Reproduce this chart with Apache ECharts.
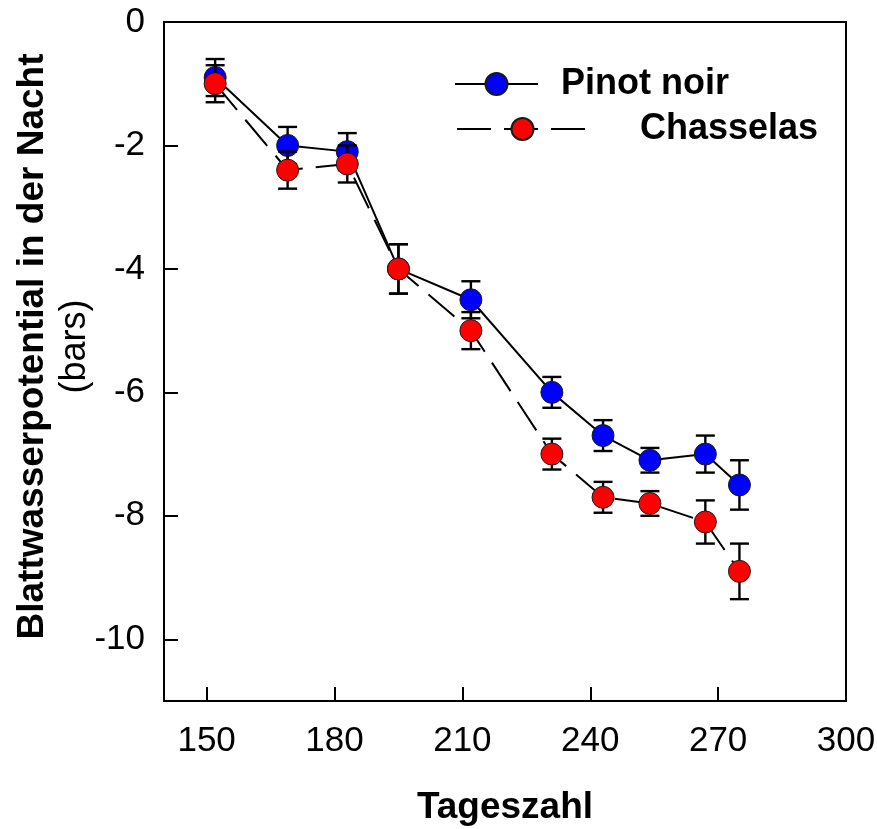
<!DOCTYPE html>
<html>
<head>
<meta charset="utf-8">
<script src="https://cdn.jsdelivr.net/npm/echarts@6/dist/echarts.min.js"></script>
<style>
html,body{margin:0;padding:0;background:#fff;}
#chart{width:877px;height:829px;}
</style>
</head>
<body>
<div id="chart"></div>
<script>
// ---- data ----
var days = [152, 169, 183, 195, 212, 231, 243, 254, 267, 275];
var pinotNoir = [-0.9, -2.0, -2.1, -4.0, -4.5, -6.0, -6.7, -7.1, -7.0, -7.5];
var pinotNoirErr = [0.3, 0.3, 0.3, 0.4, 0.3, 0.25, 0.25, 0.2, 0.3, 0.4];
var chasselas = [-1.0, -2.4, -2.3, -4.0, -5.0, -7.0, -7.7, -7.8, -8.1, -8.9];
var chasselasErr = [0.3, 0.3, 0.3, 0.4, 0.3, 0.25, 0.25, 0.2, 0.35, 0.45];
var xTicks = [150, 180, 210, 240, 270, 300];
var yTicks = [0, -2, -4, -6, -8, -10];
var seriesNames = ['Pinot noir', 'Chasselas'];
var xTitle = 'Tageszahl';
var yTitle1 = 'Blattwasserpotential in der Nacht';
var yTitle2 = '(bars)';

var FONT = 'Liberation Sans, Arial, Helvetica, sans-serif';

function pairs(xs, ys) { return xs.map(function (x, i) { return [x, ys[i]]; }); }
function errData(xs, ys, es) { return xs.map(function (x, i) { return [x, ys[i] - es[i], ys[i] + es[i]]; }); }

function errRender(params, api) {
  var x = api.value(0);
  var lo = api.coord([x, api.value(1)]);
  var hi = api.coord([x, api.value(2)]);
  var hw = 9.5;
  var st = { stroke: '#000', lineWidth: 2.4 };
  return {
    type: 'group',
    children: [
      { type: 'line', shape: { x1: lo[0], y1: lo[1], x2: hi[0], y2: hi[1] }, style: st },
      { type: 'line', shape: { x1: lo[0] - hw, y1: lo[1], x2: lo[0] + hw, y2: lo[1] }, style: st },
      { type: 'line', shape: { x1: hi[0] - hw, y1: hi[1], x2: hi[0] + hw, y2: hi[1] }, style: st }
    ]
  };
}

var chart = echarts.init(document.getElementById('chart'), null, { renderer: 'canvas' });
var option = {
  backgroundColor: '#fff',
  animation: false,
  textStyle: { fontFamily: FONT },
  grid: {
    left: 164, right: 31, top: 22, bottom: 128,
    outerBoundsMode: 'none', containLabel: false,
    show: true, borderColor: '#000', borderWidth: 2, backgroundColor: 'transparent'
  },
  legend: [
    {
      data: [seriesNames[0]], left: 454, top: 66, padding: 0,
      itemWidth: 83, itemHeight: 27.5, selectedMode: false,
      textStyle: { fontFamily: FONT, fontSize: 36, fontWeight: 'bold', color: '#000', padding: [0, 0, 0, 18] }
    },
    {
      data: [seriesNames[1]], left: 456, top: 111, padding: 0,
      itemWidth: 131, itemHeight: 27.5, selectedMode: false,
      textStyle: { fontFamily: FONT, fontSize: 36, fontWeight: 'bold', color: '#000', padding: [0, 0, 0, 47] }
    }
  ],
  xAxis: {
    type: 'value', min: 140, max: 300,
    name: xTitle, nameLocation: 'middle', nameGap: 88, nameMoveOverlap: false,
    nameTextStyle: { fontFamily: FONT, fontSize: 37, fontWeight: 'bold', color: '#000' },
    axisLine: { show: true, onZero: false, lineStyle: { color: '#000', width: 2 } },
    axisTick: { show: true, inside: true, length: 14, customValues: xTicks, lineStyle: { color: '#000', width: 2 } },
    axisLabel: { customValues: xTicks, margin: 23, fontFamily: FONT, fontSize: 35, color: '#000' },
    splitLine: { show: false }
  },
  yAxis: {
    type: 'value', min: -11, max: 0,
    name: '{b|' + yTitle1 + '}\n{n|' + yTitle2 + '}',
    nameLocation: 'middle', nameRotate: 90, nameGap: 69, nameMoveOverlap: false,
    nameTextStyle: {
      color: '#000', padding: [0, 0, 0, 30],
      rich: {
        b: { fontFamily: FONT, fontSize: 37, fontWeight: 'bold', color: '#000', lineHeight: 44 },
        n: { fontFamily: FONT, fontSize: 36, color: '#000', lineHeight: 40 }
      }
    },
    axisLine: { show: true, onZero: false, lineStyle: { color: '#000', width: 2 } },
    axisTick: { show: true, inside: true, length: 14, customValues: yTicks, lineStyle: { color: '#000', width: 2 } },
    axisLabel: { customValues: yTicks, margin: 19, fontFamily: FONT, fontSize: 35, color: '#000' },
    splitLine: { show: false }
  },
  series: [
    {
      type: 'custom', name: 'pinotErr', renderItem: errRender, z: 2,
      data: errData(days, pinotNoir, pinotNoirErr), encode: { x: 0, y: [1, 2] }, silent: true
    },
    {
      type: 'line', name: seriesNames[0], z: 3,
      data: pairs(days, pinotNoir),
      symbol: 'circle', symbolSize: 22,
      lineStyle: { color: '#000', width: 2, type: 'solid' },
      itemStyle: { color: '#0000ff', borderColor: '#1a1a1a', borderWidth: 1 }
    },
    {
      type: 'custom', name: 'chasselasErr', renderItem: errRender, z: 4,
      data: errData(days, chasselas, chasselasErr), encode: { x: 0, y: [1, 2] }, silent: true
    },
    {
      type: 'line', name: seriesNames[1], z: 5,
      data: pairs(days, chasselas),
      symbol: 'circle', symbolSize: 22,
      lineStyle: { color: '#000', width: 2, type: [34, 13] },
      itemStyle: { color: '#ff0000', borderColor: '#1a1a1a', borderWidth: 1 }
    }
  ]
};
chart.setOption(option);
</script>
</body>
</html>
